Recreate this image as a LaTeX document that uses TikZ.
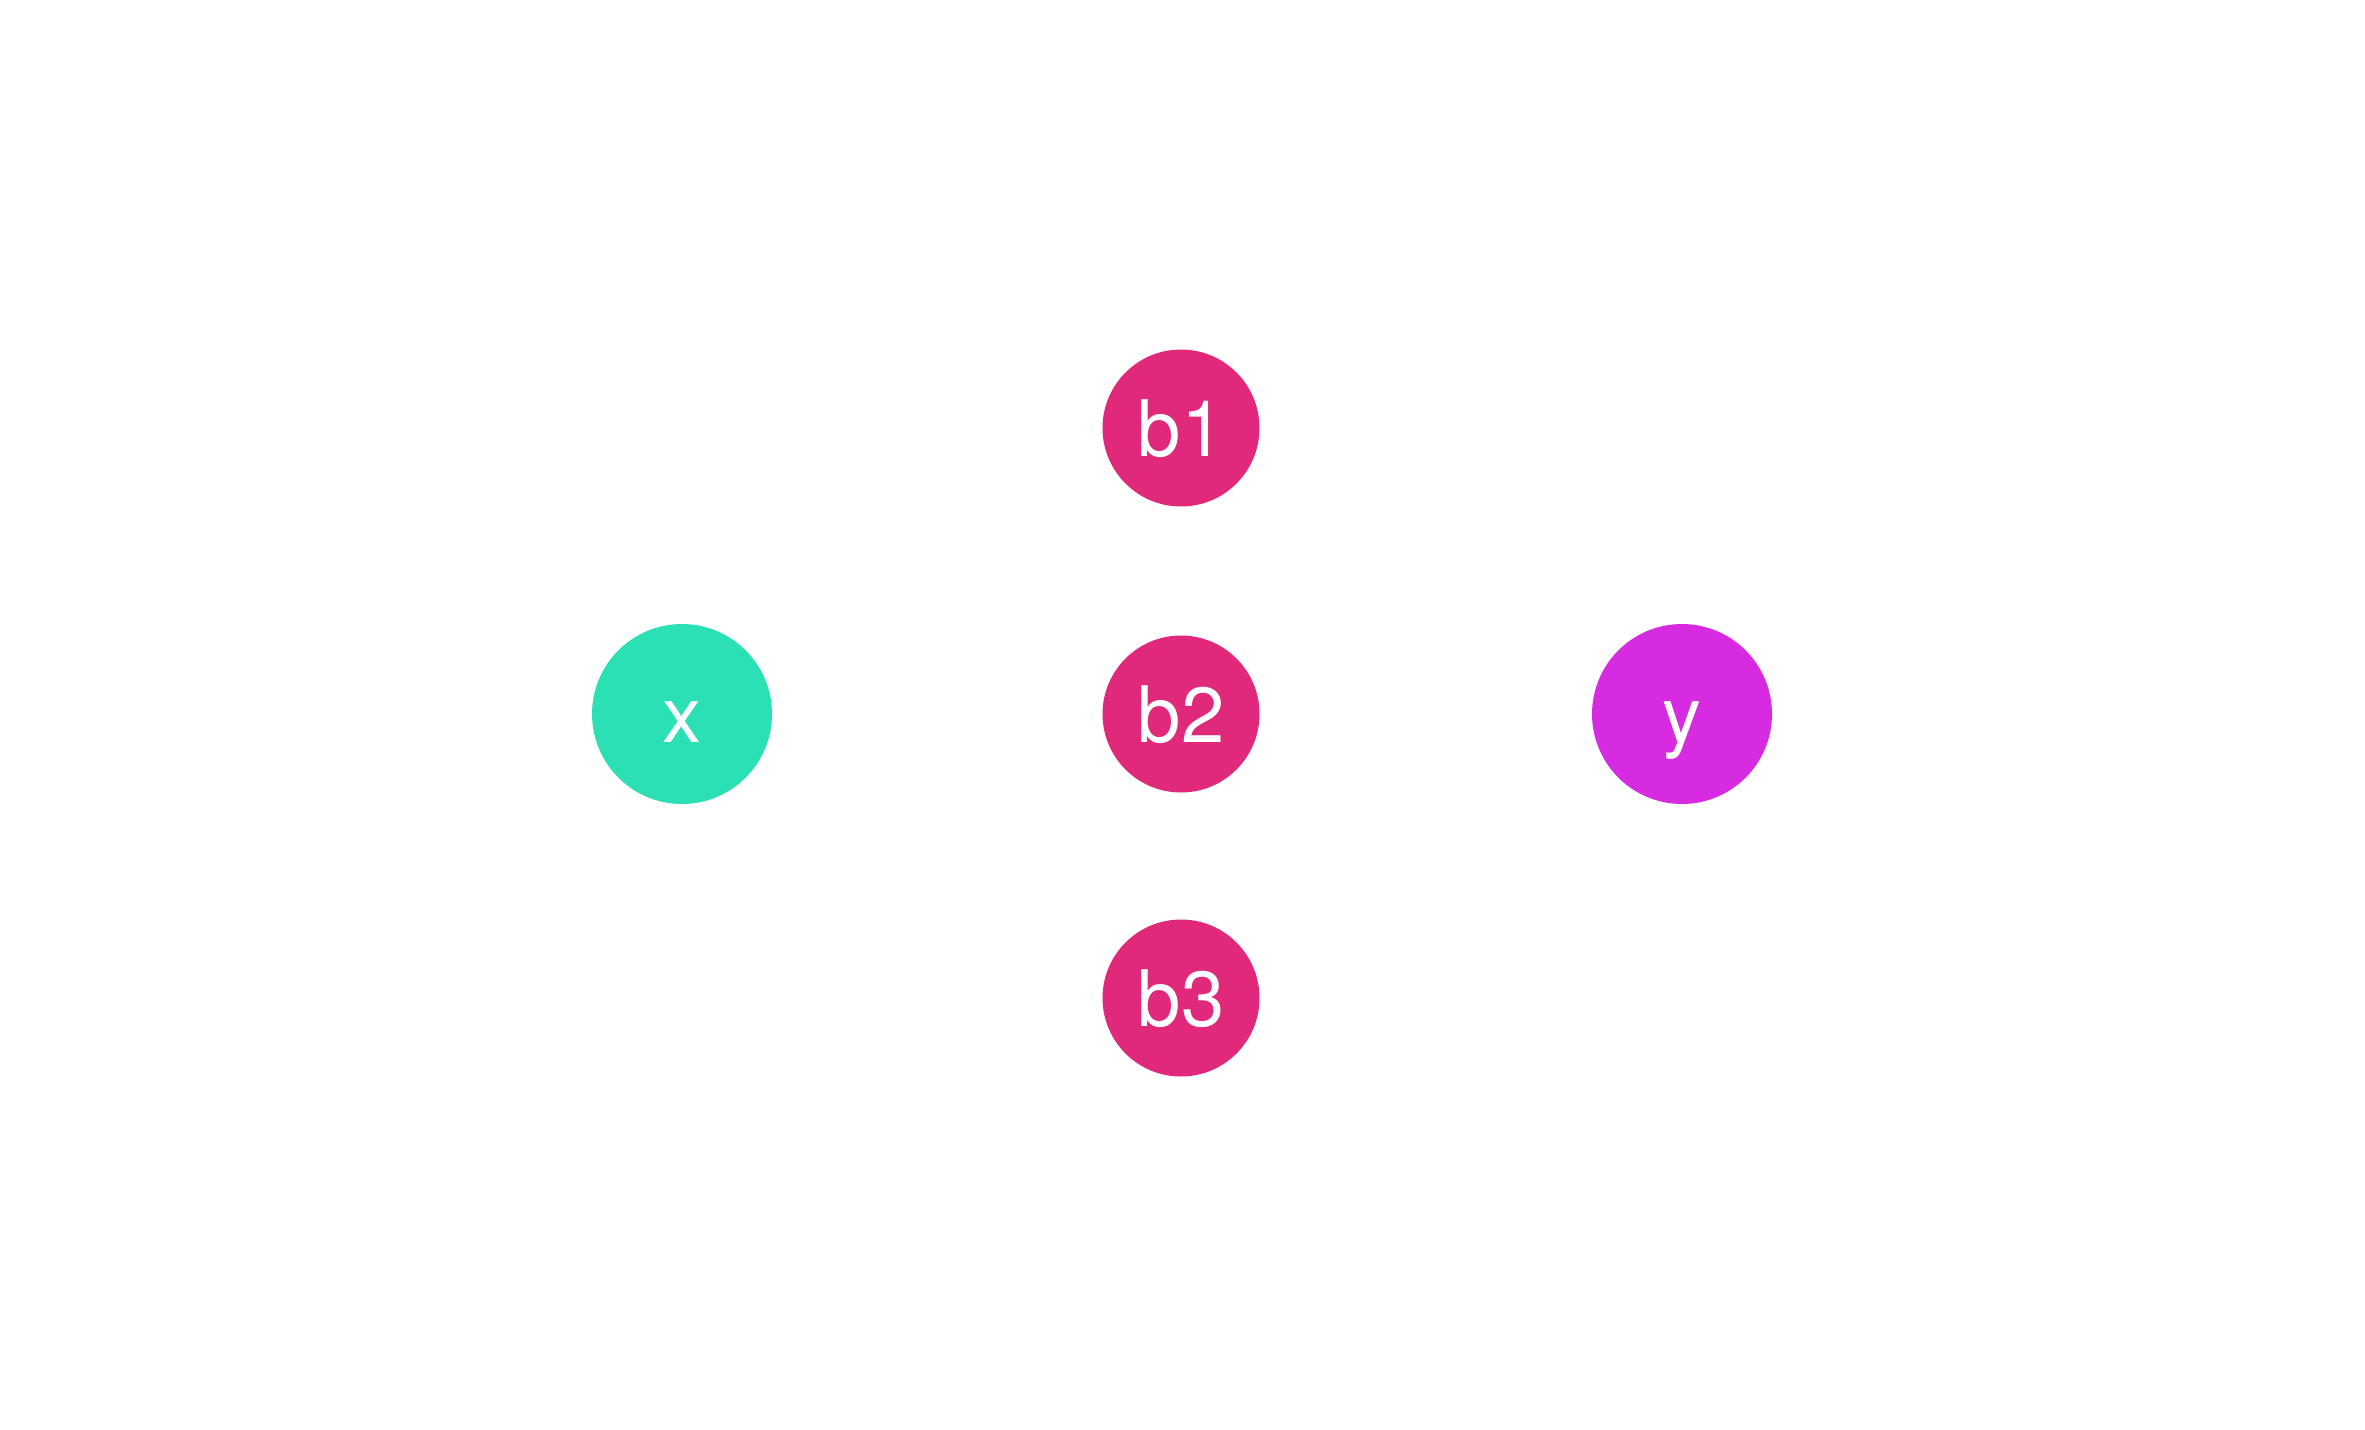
\documentclass[tikz,border=0pt]{standalone}
\usepackage{fontspec}
\setmainfont{TeX Gyre Heros}
\usetikzlibrary{arrows.meta}
\definecolor{cx}{HTML}{2BE0B5}
\definecolor{cb}{HTML}{E0297A}
\definecolor{cy}{HTML}{D62BE0}
\begin{document}
\begin{tikzpicture}[x=1pt,y=-1pt,
  nd/.style={circle,inner sep=0pt,text=white,text height=57pt,text depth=0pt,font=\fontsize{78}{90}\selectfont},
  big/.style={nd,minimum size=180pt},
  small/.style={nd,minimum size=157pt,fill=cb},
  edge/.style={white,line width=1.5pt,-{Stealth[length=6pt,width=6pt]}}]
\useasboundingbox (0,0) rectangle (2365,1429);
\node[big,fill=cx] (x) at (682,714) {x};
\node[small] (b1) at (1181,428) {b1};
\node[small] (b2) at (1181,714) {b2};
\node[small] (b3) at (1181,998) {b3};
\node[big,fill=cy] (y) at (1682,714) {y};
\foreach \b in {b1,b2,b3}{
  \draw[edge] (x.east) to[out=0,in=180] (\b.west);
  \draw[edge] (\b.east) to[out=0,in=180] (y.west);
}
\end{tikzpicture}
\end{document}
